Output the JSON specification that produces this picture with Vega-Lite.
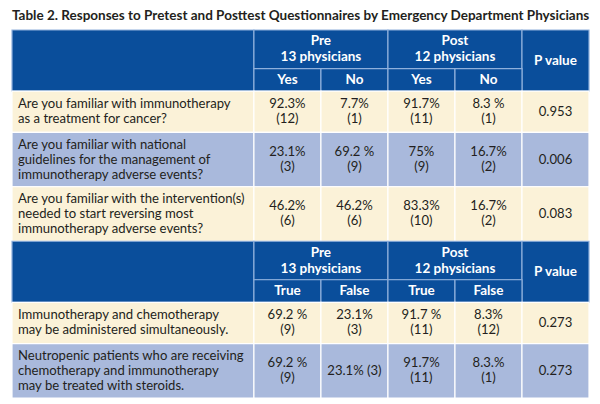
{
  "$schema": "https://vega.github.io/schema/vega-lite/v6.json",
  "width": 577,
  "height": 368,
  "autosize": "none",
  "padding": {"left": 12, "top": 30, "right": 11, "bottom": 6},
  "background": "white",
  "title": {
    "text": "Table 2. Responses to Pretest and Posttest Questionnaires by Emergency Department Physicians",
    "anchor": "start",
    "frame": "group",
    "font": "Lato",
    "fontSize": 13.5,
    "fontWeight": "bold",
    "color": "#231f20",
    "offset": 7
  },
  "config": {"view": {"stroke": null}},
  "data": {
    "values": [
      {"n": 1, "kind": "h1", "q": "", "a": "Pre\n13 physicians", "b": "", "c": "Post\n12 physicians", "d": "", "p": "P value"},
      {"n": 2, "kind": "h2", "q": "", "a": "Yes", "b": "No", "c": "Yes", "d": "No", "p": ""},
      {"n": 3, "kind": "body", "q": "Are you familiar with immunotherapy\nas a treatment for cancer?", "a": "92.3%\n(12)", "b": "7.7%\n(1)", "c": "91.7%\n(11)", "d": "8.3 %\n(1)", "p": "0.953"},
      {"n": 4, "kind": "body", "q": "Are you familiar with national\nguidelines for the management of\nimmunotherapy adverse events?", "a": "23.1%\n(3)", "b": "69.2 %\n(9)", "c": "75%\n(9)", "d": "16.7%\n(2)", "p": "0.006"},
      {"n": 5, "kind": "body", "q": "Are you familiar with the intervention(s)\nneeded to start reversing most\nimmunotherapy adverse events?", "a": "46.2%\n(6)", "b": "46.2%\n(6)", "c": "83.3%\n(10)", "d": "16.7%\n(2)", "p": "0.083"},
      {"n": 6, "kind": "h1", "q": "", "a": "Pre\n13 physicians", "b": "", "c": "Post\n12 physicians", "d": "", "p": "P value"},
      {"n": 7, "kind": "h2", "q": "", "a": "True", "b": "False", "c": "True", "d": "False", "p": ""},
      {"n": 8, "kind": "body", "q": "Immunotherapy and chemotherapy\nmay be administered simultaneously.", "a": "69.2 %\n(9)", "b": "23.1%\n(3)", "c": "91.7 %\n(11)", "d": "8.3%\n(12)", "p": "0.273"},
      {"n": 9, "kind": "body", "q": "Neutropenic patients who are receiving\nchemotherapy and immunotherapy\nmay be treated with steroids.", "a": "69.2 %\n(9)", "b": "23.1% (3)", "c": "91.7%\n(11)", "d": "8.3.%\n(1)", "p": "0.273"}
    ]
  },
  "transform": [
    {"calculate": "max(length(split(datum.q, '\\n')), length(split(datum.a, '\\n')))", "as": "lines"},
    {"calculate": "datum.kind == 'h1' ? datum.lines + 0.9 : datum.kind == 'h2' ? datum.lines + 0.7 : datum.lines + 1.1", "as": "h"},
    {"calculate": "datum.kind == 'h1' ? 1 : 0", "as": "isH1"},
    {"window": [{"op": "sum", "field": "h", "as": "y1"}, {"op": "sum", "field": "isH1", "as": "sec"}, {"op": "lead", "field": "h", "as": "nh"}], "sort": [{"field": "n", "order": "ascending"}], "frame": [null, 0]},
    {"calculate": "datum.y1 - datum.h", "as": "y0"},
    {"window": [{"op": "row_number", "as": "k"}], "groupby": ["sec", "kind"], "sort": [{"field": "n", "order": "ascending"}]},
    {"fold": ["q", "a", "b", "c", "d", "p"], "as": ["col", "txt"]},
    {"filter": "!(datum.kind == 'h1' && (datum.col == 'b' || datum.col == 'd')) && !(datum.kind == 'h2' && (datum.col == 'q' || datum.col == 'p'))"},
    {"calculate": "indexof(['q','a','b','c','d','p'], datum.col)", "as": "ci"},
    {"calculate": "datum.ci == 0 ? 0 : datum.ci + 2.61", "as": "x0"},
    {"calculate": "datum.ci == 0 ? 3.61 : (datum.kind == 'h1' && (datum.col == 'a' || datum.col == 'c')) ? datum.ci + 4.61 : datum.ci + 3.61", "as": "x1"},
    {"calculate": "(datum.kind == 'h1' && (datum.col == 'q' || datum.col == 'p')) ? datum.y1 + datum.nh : datum.y1", "as": "yb"},
    {"calculate": "(datum.x0 + datum.x1) / 2", "as": "xm"},
    {"calculate": "length(split(datum.txt, '\\n'))", "as": "nl"},
    {"calculate": "(datum.y0 + datum.yb) / 2 - (datum.nl - 1) / 2 * (datum.kind == 'body' ? 1.13 : 1.2)", "as": "ym"},
    {"calculate": "datum.kind == 'body' ? (datum.k % 2 == 1 ? 'cream' : 'blue') : 'head'", "as": "fill"}
  ],
  "layer": [
    {
      "mark": {"type": "rect", "strokeWidth": 1.2},
      "encoding": {
        "x": {"field": "x0", "type": "quantitative", "scale": {"domain": [0, 8.61], "nice": false}, "axis": null},
        "x2": {"field": "x1"},
        "y": {"field": "y0", "type": "quantitative", "scale": {"reverse": true, "nice": false, "zero": true}, "axis": null},
        "y2": {"field": "yb"},
        "color": {"field": "fill", "type": "nominal", "scale": {"domain": ["head", "cream", "blue"], "range": ["#0a4e9b", "#fbf2d8", "#a9b9dc"]}, "legend": null},
        "stroke": {"condition": {"test": "datum.kind != 'body'", "value": "#8fb0dc"}, "value": "#ffffff"}
      }
    },
    {
      "transform": [{"filter": "datum.kind != 'body' && datum.txt != ''"}],
      "mark": {"type": "text", "font": "Lato", "fontSize": 13.5, "fontWeight": "bold", "color": "#ffffff", "align": "center", "baseline": "middle", "lineBreak": "\n", "lineHeight": 16},
      "encoding": {
        "x": {"field": "xm", "type": "quantitative"},
        "y": {"field": "ym", "type": "quantitative"},
        "text": {"field": "txt", "type": "nominal"}
      }
    },
    {
      "transform": [{"filter": "datum.kind == 'body' && datum.col == 'q'"}],
      "mark": {"type": "text", "font": "Lato", "fontSize": 13.1, "color": "#231f20", "align": "left", "baseline": "middle", "lineBreak": "\n", "lineHeight": 15, "xOffset": 6},
      "encoding": {
        "x": {"field": "x0", "type": "quantitative"},
        "y": {"field": "ym", "type": "quantitative"},
        "text": {"field": "txt", "type": "nominal"}
      }
    },
    {
      "transform": [{"filter": "datum.kind == 'body' && datum.col != 'q'"}],
      "mark": {"type": "text", "font": "Lato", "fontSize": 13.1, "color": "#231f20", "align": "center", "baseline": "middle", "lineBreak": "\n", "lineHeight": 15},
      "encoding": {
        "x": {"field": "xm", "type": "quantitative"},
        "y": {"field": "ym", "type": "quantitative"},
        "text": {"field": "txt", "type": "nominal"}
      }
    }
  ]
}
